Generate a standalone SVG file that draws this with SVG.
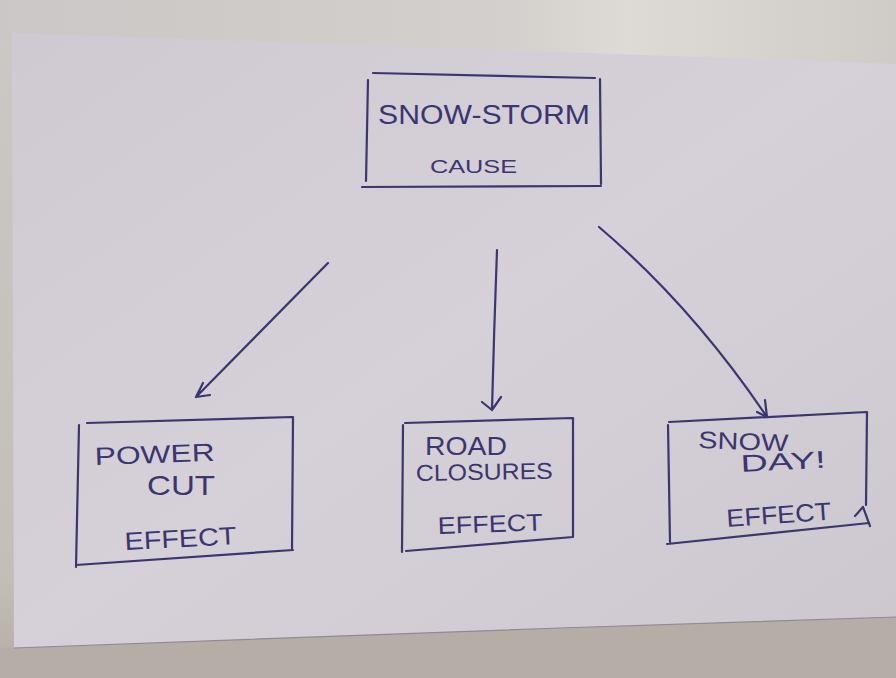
<svg xmlns="http://www.w3.org/2000/svg" width="896" height="678" viewBox="0 0 896 678">
<defs>
<linearGradient id="bgTop" x1="0" y1="0" x2="1" y2="0">
<stop offset="0" stop-color="#cac7c6"/>
<stop offset="0.55" stop-color="#d2cfcc"/>
<stop offset="0.7" stop-color="#dedbd6"/>
<stop offset="1" stop-color="#cfcbc6"/>
</linearGradient>
<linearGradient id="bgV" x1="0" y1="0" x2="0" y2="1">
<stop offset="0" stop-color="#cbc8c6"/>
<stop offset="0.85" stop-color="#c3beb9"/>
<stop offset="1" stop-color="#b4ada5"/>
</linearGradient>
<linearGradient id="paper" x1="0" y1="0" x2="1" y2="1">
<stop offset="0" stop-color="#cfcad2"/>
<stop offset="0.5" stop-color="#d6d1d9"/>
<stop offset="1" stop-color="#cdc8cf"/>
</linearGradient>
<style>
.ink{fill:none;stroke:#3b3670;stroke-width:2.2;stroke-linecap:round;stroke-linejoin:round}
.t{fill:#3b3670;font-family:"Liberation Sans","DejaVu Sans",sans-serif}
</style>
</defs>
<rect x="0" y="0" width="896" height="678" fill="url(#bgV)"/>
<path d="M0,0 L896,0 L896,70 L0,40 Z" fill="url(#bgTop)"/>
<path d="M0,648 L560,628 L896,617 L896,678 L0,678 Z" fill="#b5aea6"/>
<path d="M12,33 L560,52 L896,64 L896,617 L560,628 L14,648 Z" fill="url(#paper)"/>
<path d="M14,648 L560,628 L896,617" fill="none" stroke="#8e8a96" stroke-width="1.2"/>

<g id="snowstorm">
<path class="ink" d="M373,73 L595,78 M368,80 L366,181 M362,187 L601,186 M600,79 L601,184"/>
<text class="t" x="378" y="124" font-size="27" textLength="212" lengthAdjust="spacingAndGlyphs">SNOW-STORM</text>
<text class="t" x="430" y="173" font-size="19" textLength="87" lengthAdjust="spacingAndGlyphs">CAUSE</text>
</g>

<g id="powercut">
<path class="ink" d="M87,423 L292,417 M79,425 L76,567 M76,565 L293,550 M293,417 L292,550"/>
<text class="t" x="95" y="465" font-size="25" textLength="120" lengthAdjust="spacingAndGlyphs" transform="rotate(-2 95 465)">POWER</text>
<text class="t" x="147" y="495" font-size="28" textLength="68" lengthAdjust="spacingAndGlyphs">CUT</text>
<text class="t" x="125" y="550" font-size="25" textLength="112" lengthAdjust="spacingAndGlyphs" transform="rotate(-3 125 550)">EFFECT</text>
</g>

<g id="roadclosures">
<path class="ink" d="M405,423 L572,418 M403,425 L402,552 M406,551 L573,537 M573,418 L573,537"/>
<text class="t" x="425" y="455" font-size="26" textLength="82" lengthAdjust="spacingAndGlyphs">ROAD</text>
<text class="t" x="416" y="481" font-size="23" textLength="137" lengthAdjust="spacingAndGlyphs" transform="rotate(-1 416 481)">CLOSURES</text>
<text class="t" x="438" y="534" font-size="24" textLength="105" lengthAdjust="spacingAndGlyphs" transform="rotate(-2 438 534)">EFFECT</text>
</g>

<g id="snowday">
<path class="ink" d="M669,422 L867,412 M668,425 L670,542 M667,544 L869,523 M867,412 L866,505"/>
<path class="ink" d="M863,507 L855,516 M863,507 L870,526"/>
<text class="t" x="698" y="448" font-size="24" textLength="90" lengthAdjust="spacingAndGlyphs" transform="rotate(2 698 448)">SNOW</text>
<text class="t" x="741" y="472" font-size="24" textLength="85" lengthAdjust="spacingAndGlyphs" transform="rotate(-3 741 472)">DAY!</text>
<text class="t" x="727" y="527" font-size="25" textLength="105" lengthAdjust="spacingAndGlyphs" transform="rotate(-4 727 527)">EFFECT</text>
</g>

<g id="connectors">
<path class="ink" d="M328,263 Q262,330 196,397 M196,397 L203,383 M196,397 L210,395"/>
<path class="ink" d="M497,250 Q494,330 492,410 M492,410 L482,402 M492,410 L501,397"/>
<path class="ink" d="M599,227 Q692,306 767,417 M767,417 L757,412 M767,417 L765,400"/>
</g>
</svg>
